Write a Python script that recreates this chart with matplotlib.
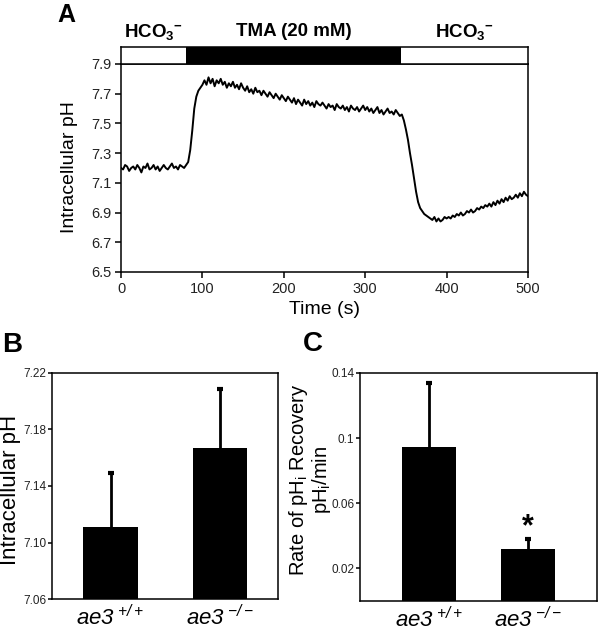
import matplotlib
matplotlib.use('Agg')
import matplotlib.pyplot as plt
import matplotlib.transforms as mtransforms
import numpy as np

plt.rcParams['font.family'] = ['Liberation Sans', 'DejaVu Sans']
plt.rcParams['mathtext.fontset'] = 'custom'
plt.rcParams['mathtext.rm'] = 'Liberation Sans'
plt.rcParams['mathtext.it'] = 'Liberation Sans:italic'
plt.rcParams['mathtext.sf'] = 'Liberation Sans:italic'
plt.rcParams['mathtext.bf'] = 'Liberation Sans:bold'
plt.rcParams['axes.linewidth'] = 1.1

# panel A: intracellular pH trace, every 2.5 s
time_s = np.arange(0, 500.1, 2.5)
ph_trace = [
    # 0 - 80 s, HCO3- baseline
    7.20, 7.19, 7.22, 7.21, 7.18, 7.20, 7.21, 7.19, 7.22, 7.20, 7.17,
    7.21, 7.20, 7.23, 7.19, 7.20, 7.22, 7.19, 7.21, 7.18, 7.20, 7.22,
    7.20, 7.19, 7.21, 7.23, 7.20, 7.21, 7.19, 7.22, 7.21, 7.20, 7.22,
    # 82.5 - 100 s, TMA added
    7.24, 7.32, 7.45, 7.60, 7.68, 7.72, 7.74, 7.76,
    # 102.5 - 150 s
    7.79, 7.76, 7.81, 7.77, 7.80, 7.75, 7.79, 7.77, 7.80, 7.76,
    7.78, 7.74, 7.77, 7.75, 7.78, 7.74, 7.76, 7.73, 7.77, 7.74,
    # 152.5 - 200 s
    7.72, 7.75, 7.71, 7.73, 7.70, 7.74, 7.71, 7.72, 7.69, 7.72,
    7.70, 7.68, 7.71, 7.69, 7.67, 7.70, 7.68, 7.66, 7.69, 7.67,
    # 202.5 - 250 s
    7.65, 7.68, 7.66, 7.64, 7.67, 7.63, 7.66, 7.64, 7.62, 7.66,
    7.63, 7.65, 7.62, 7.64, 7.61, 7.65, 7.63, 7.62, 7.64, 7.62,
    # 252.5 - 300 s
    7.60, 7.63, 7.61, 7.62, 7.59, 7.63, 7.61, 7.60, 7.62, 7.59,
    7.61, 7.58, 7.62, 7.60, 7.59, 7.61, 7.58, 7.60, 7.62, 7.59,
    # 302.5 - 345 s
    7.61, 7.58, 7.60, 7.57, 7.59, 7.61, 7.57, 7.59, 7.56,
    7.58, 7.60, 7.57, 7.58, 7.56, 7.59, 7.57, 7.55, 7.56,
    # 347.5 - 380 s, back to HCO3-
    7.52, 7.46, 7.39, 7.30, 7.22, 7.13, 7.04, 6.97, 6.93, 6.91,
    6.89, 6.88, 6.87, 6.86,
    # 382.5 - 400 s
    6.85, 6.87, 6.84, 6.86, 6.84, 6.85, 6.87, 6.86,
    # 402.5 - 450 s, recovery
    6.87, 6.86, 6.88, 6.87, 6.89, 6.88, 6.90, 6.88, 6.89, 6.91,
    6.90, 6.92, 6.90, 6.91, 6.93, 6.92, 6.94, 6.93, 6.95, 6.94,
    # 452.5 - 500 s
    6.96, 6.94, 6.97, 6.95, 6.98, 6.96, 6.99, 6.97, 7.00, 6.98,
    7.01, 6.99, 7.00, 7.02, 7.00, 7.03, 7.01, 7.04, 7.02, 7.01,
]
tma_start = 80
tma_end = 344
segment_labels = [r'HCO$_\mathbf{3}{}^\mathbf{-}$', 'TMA (20 mM)', r'HCO$_\mathbf{3}{}^\mathbf{-}$']

# panels B and C
genotypes = [r'$\mathsf{ae3}^{\ \mathsf{+/+}}$', r'$\mathsf{ae3}^{\ \mathsf{-/-}}$']
resting_ph = [7.111, 7.167]
resting_ph_err = [0.038, 0.042]
recovery_rate = [0.0946, 0.0317]
recovery_rate_err = [0.039, 0.0061]


def hide_lower_caps(container, means):
    # bar(yerr=[[0..], [..]]) also draws a cap on the bar top, drop it
    _, caplines, _ = container.errorbar.lines
    for cap in caplines:
        if np.allclose(cap.get_ydata(), means):
            cap.set_visible(False)


fig = plt.figure(figsize=(6, 6.31), dpi=100)

# ---- A ----
axA = fig.add_axes([0.2017, 0.569, 0.6783, 0.3296])
axA.plot(time_s, ph_trace, color='black', linewidth=1.4)
axA.set_xlim(0, 500)
axA.set_ylim(6.5, 7.9)
axA.set_xticks(range(0, 501, 100))
axA.set_yticks([6.5, 6.7, 6.9, 7.1, 7.3, 7.5, 7.7, 7.9])
axA.set_yticklabels(['6.5', '6.7', '6.9', '7.1', '7.3', '7.5', '7.7', '7.9'])
axA.tick_params(direction='out', length=4, width=1.1, labelsize=10.5,
                labelcolor='#222222', pad=3)
axA.set_xlabel('Time (s)', fontsize=14, labelpad=4)

axbar = fig.add_axes([0.2017, 0.8986, 0.6783, 0.027])
axbar.barh(0, tma_end - tma_start, left=tma_start, height=1.0, color='black')
axbar.set_xlim(0, 500)
axbar.set_ylim(-0.5, 0.5)
axbar.set_xticks([])
axbar.set_yticks([])
seg_mids = [tma_start / 2, (tma_start + tma_end) / 2, (tma_end + 500) / 2]
trans = mtransforms.blended_transform_factory(axbar.transData, axbar.transAxes)
for xm, lab in zip(seg_mids, segment_labels):
    axbar.text(xm, 1.9, lab, transform=trans, ha='center', va='center',
               fontsize=13.5, fontweight='bold')

fig.text(70 / 600, 1 - 167 / 631, 'Intracellular pH', rotation=90,
         ha='center', va='center', fontsize=14)
fig.text(66 / 600, 1 - 15 / 631, 'A', ha='center', va='center',
         fontsize=18, fontweight='bold')

err_kw = dict(ecolor='black', elinewidth=2, capsize=2, capthick=3)

# ---- B ----
axB = fig.add_axes([0.0867, 0.0507, 0.3766, 0.3582])
bars_b = axB.bar([0, 1], resting_ph, width=0.5, color='black',
                 yerr=[[0, 0], resting_ph_err], error_kw=err_kw)
hide_lower_caps(bars_b, resting_ph)
axB.set_xlim(-0.535, 1.531)
axB.set_ylim(7.06, 7.22)
axB.set_yticks([7.06, 7.10, 7.14, 7.18, 7.22])
axB.set_yticklabels(['7.06', '7.10', '7.14', '7.18', '7.22'])
axB.set_xticks([0, 1])
axB.set_xticklabels(genotypes, fontsize=16)
axB.tick_params(axis='y', direction='out', length=3, width=1.1, labelsize=8.5,
                labelcolor='#222222', pad=1)
axB.tick_params(axis='x', length=0, pad=4)
fig.text(11 / 600, 1 - 490 / 631, 'Intracellular pH', rotation=90,
         ha='center', va='center', fontsize=16)
fig.text(12 / 600, 1 - 345 / 631, 'B', ha='center', va='center',
         fontsize=20, fontweight='bold')

# ---- C ----
axC = fig.add_axes([0.6, 0.0475, 0.3955, 0.3614])
bars_c = axC.bar([0, 1], recovery_rate, width=0.55, color='black',
                 yerr=[[0, 0], recovery_rate_err], error_kw=err_kw)
hide_lower_caps(bars_c, recovery_rate)
axC.set_xlim(-0.7, 1.7)
axC.set_ylim(0, 0.14)
axC.set_yticks([0.02, 0.06, 0.1, 0.14])
axC.set_yticklabels(['0.02', '0.06', '0.1', '0.14'])
axC.set_xticks([0, 1])
axC.set_xticklabels(genotypes, fontsize=16)
axC.tick_params(axis='y', direction='out', length=3, width=1.1, labelsize=8.5,
                labelcolor='#222222', pad=1)
axC.tick_params(axis='x', length=0, pad=4)
axC.text(1, recovery_rate[1] + recovery_rate_err[1] - 0.002, '*',
         ha='center', va='bottom', fontsize=22, fontweight='bold')
fig.text(310 / 600, 1 - 480 / 631,
         'Rate of pH$_\\mathregular{i}$ Recovery\npH$_\\mathregular{i}$/min',
         rotation=90, ha='center', va='center', fontsize=14.5, linespacing=1.0)
fig.text(313 / 600, 1 - 344 / 631, 'C', ha='center', va='center',
         fontsize=20, fontweight='bold')

fig.savefig('out.png', dpi=100)
